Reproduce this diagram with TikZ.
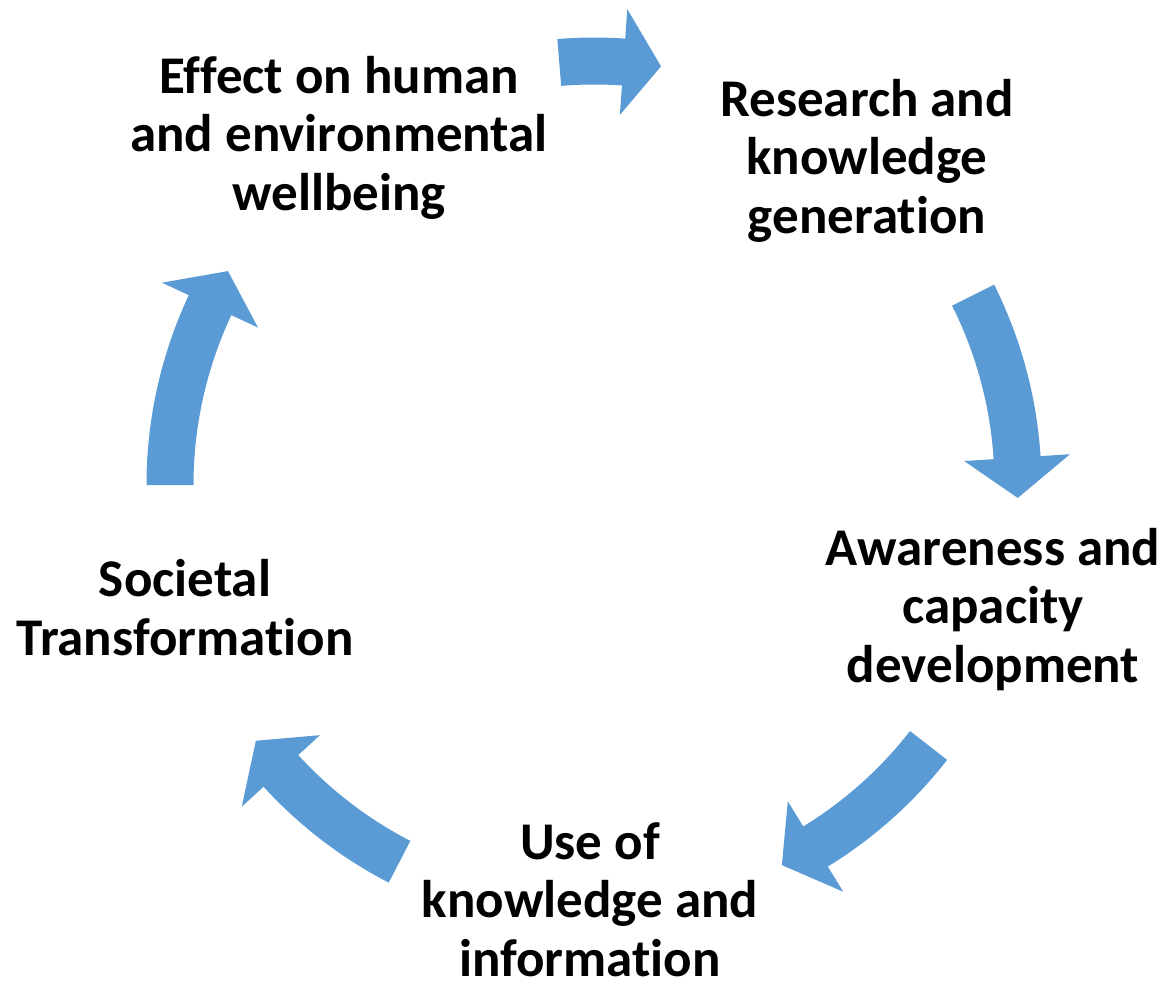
\documentclass[tikz,border=0pt]{standalone}
\usepackage{fontspec}
\setmainfont{Carlito}[Ligatures=CommonOff]
\usetikzlibrary{calc}
\definecolor{arrowblue}{HTML}{5B9BD5}
% curved block arrow on the cycle circle: #1 tail angle, #2 head base angle, #3 tip angle
\newcommand\cyarrow[3]{%
  \fill[cyclearrow] ($(c)+(#1:447.5)$) arc[start angle=#1,end angle=#2,radius=447.5]
    -- ($(c)+(#2:477)$) -- ($(c)+(#3:424)$) -- ($(c)+(#2:371)$)
    -- ($(c)+(#2:400.5)$) arc[start angle=#2,end angle=#1,radius=400.5] -- cycle;}
\begin{document}
\begin{tikzpicture}[x=1pt,y=1pt,
  lbl/.style={align=center,anchor=base,inner sep=0pt,
    font=\fontsize{53}{58.5}\selectfont\bfseries},
  cyclearrow/.style={fill=arrowblue,draw=none}]
\useasboundingbox (0,0) rectangle (1165,-985);
\coordinate (c) at (594,-485);
% anchor=base sits on the baseline of the last line
\node[lbl] (effect) at (339,-210) {Effect on human\\and environmental\\wellbeing};
\node[lbl] (research) at (867,-233) {Research and\\knowledge\\generation};
\node[lbl] (awareness) at (993,-682) {Awareness and\\capacity\\development};
\node[lbl] (use) at (590,-976) {Use of\\knowledge and\\information};
\node[lbl] (societal) at (185,-655) {Societal\\Transformation};
\cyarrow{94.7}{86}{80.9}
\cyarrow{26.6}{3.7}{-1.75}
\cyarrow{-37.9}{-58.5}{-63.7}
\cyarrow{-117.3}{-137.6}{-142.9}
\cyarrow{180}{154.9}{149.7}
\end{tikzpicture}
\end{document}
